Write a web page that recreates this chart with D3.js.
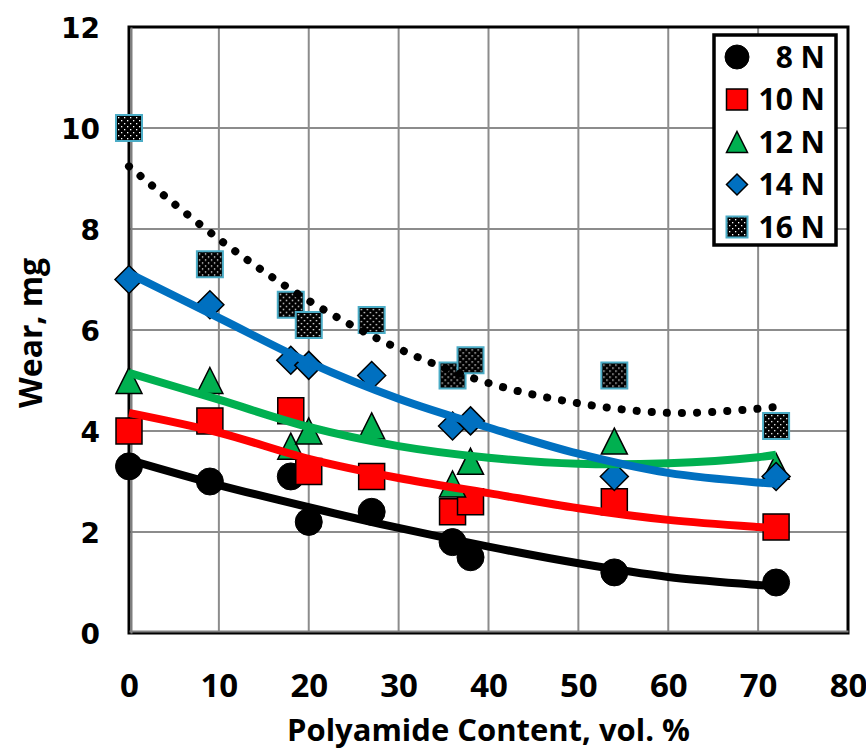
<!DOCTYPE html>
<html>
<head>
<meta charset="utf-8">
<script src="https://cdn.jsdelivr.net/npm/d3@7"></script>
<style>
  body { margin: 0; background: #fff; }
  svg { display: block; }
</style>
</head>
<body>
<svg></svg>
<script>
// polyamide content (vol. %) of the measured samples
let content = [0, 9, 18, 20, 27, 36, 38, 54, 72]

// wear (mg) for each load
let wear8 = [3.3, 3.0, 3.1, 2.2, 2.4, 1.8, 1.5, 1.2, 1.0]
let wear10 = [4.0, 4.2, 4.4, 3.2, 3.1, 2.4, 2.6, 2.6, 2.1]
let wear12 = [5.0, 5.0, 3.7, 4.0, 4.1, 2.95, 3.4, 3.8, 3.3]
let wear14 = [7.0, 6.5, 5.4, 5.3, 5.1, 4.1, 4.2, 3.1, 3.1]
let wear16 = [10.0, 7.3, 6.5, 6.1, 6.2, 5.1, 5.4, 5.1, 4.1]

// trend lines
let trendX = [0, 10, 20, 30, 40, 50, 60, 70, 72]
let trend8 = [3.43, 2.93, 2.49, 2.08, 1.71, 1.38, 1.11, 0.95, 0.92]
let trend10 = [4.36, 3.97, 3.45, 3.07, 2.77, 2.47, 2.24, 2.10, 2.08]
let trend12 = [5.15, 4.62, 4.08, 3.70, 3.47, 3.35, 3.36, 3.48, 3.53]
let trend14 = [7.12, 6.24, 5.36, 4.64, 4.07, 3.55, 3.17, 2.98, 2.96]
let trend16 = [9.24, 7.80, 6.58, 5.63, 4.95, 4.55, 4.36, 4.44, 4.48]

let loads = ['8 N', '10 N', '12 N', '14 N', '16 N']
let xTicks = [0, 10, 20, 30, 40, 50, 60, 70, 80]
let yTicks = [0, 2, 4, 6, 8, 10, 12]

let width = 866
let height = 751
let plotLeft = 129
let plotRight = 848
let plotTop = 27
let plotBottom = 633

let svg = d3.select('svg')
    .attr('width', width)
    .attr('height', height)

let xScale = d3.scaleLinear().domain([0, 80]).range([plotLeft, plotRight])
let yScale = d3.scaleLinear().domain([0, 12]).range([plotBottom, plotTop])

// dotted fill for the 16 N squares
let pat = svg.append('defs').append('pattern')
    .attr('id', 'dots')
    .attr('patternUnits', 'userSpaceOnUse')
    .attr('width', 6)
    .attr('height', 6)
pat.append('rect').attr('width', 6).attr('height', 6).attr('fill', '#000')
pat.append('rect').attr('x', 1).attr('y', 1).attr('width', 1.3).attr('height', 1.3).attr('fill', '#fff')
pat.append('rect').attr('x', 4).attr('y', 4).attr('width', 1.3).attr('height', 1.3).attr('fill', '#fff')

// marker shapes, s = full size
let shapes = {
    circle: (s) => d3.symbol(d3.symbolCircle, Math.PI * s * s / 4)(),
    square: (s) => 'M' + (-s / 2) + ',' + (-s / 2) + 'h' + s + 'v' + s + 'h' + (-s) + 'Z',
    triangle: (s) => 'M0,' + (-s / 2) + 'L' + (s / 2) + ',' + (s / 2) + 'L' + (-s / 2) + ',' + (s / 2) + 'Z',
    diamond: (s) => 'M0,' + (-s / 2) + 'L' + (s / 2) + ',0L0,' + (s / 2) + 'L' + (-s / 2) + ',0Z'
}

let series = [
    { name: loads[0], values: wear8, trend: trend8, shape: 'circle', size: 27, fill: '#000', stroke: '#000', sw: 1, line: '#000' },
    { name: loads[1], values: wear10, trend: trend10, shape: 'square', size: 26, fill: '#ff0000', stroke: '#000', sw: 1.5, line: '#ff0000' },
    { name: loads[2], values: wear12, trend: trend12, shape: 'triangle', size: 26, fill: '#00b050', stroke: '#000', sw: 1.5, line: '#00b050' },
    { name: loads[3], values: wear14, trend: trend14, shape: 'diamond', size: 28, fill: '#0070c0', stroke: '#000', sw: 1.5, line: '#0070c0' },
    { name: loads[4], values: wear16, trend: trend16, shape: 'square', size: 26, fill: 'url(#dots)', stroke: '#4bacc6', sw: 2, line: '#000', dotted: true }
]

// grid
svg.append('g')
    .selectAll('line')
    .data(xTicks.slice(1, -1))
    .enter()
    .append('line')
    .attr('x1', (d) => xScale(d))
    .attr('x2', (d) => xScale(d))
    .attr('y1', plotTop)
    .attr('y2', plotBottom)
    .attr('stroke', '#8c8c8c')
    .attr('stroke-width', 2)

svg.append('g')
    .selectAll('line')
    .data(yTicks.slice(1, -1))
    .enter()
    .append('line')
    .attr('x1', plotLeft)
    .attr('x2', plotRight)
    .attr('y1', (d) => yScale(d))
    .attr('y2', (d) => yScale(d))
    .attr('stroke', '#8c8c8c')
    .attr('stroke-width', 2)

// plot frame
svg.append('rect')
    .attr('x', plotLeft)
    .attr('y', plotTop)
    .attr('width', plotRight - plotLeft)
    .attr('height', plotBottom - plotTop)
    .attr('fill', 'none')
    .attr('stroke', '#000')
    .attr('stroke-width', 3)

// axes (labels only)
let xAxis = d3.axisBottom(xScale).tickValues(xTicks).tickSize(0).tickPadding(0)
let yAxis = d3.axisLeft(yScale).tickValues(yTicks).tickSize(0).tickPadding(0)

let gx = svg.append('g')
    .attr('transform', 'translate(0,' + plotBottom + ')')
    .call(xAxis)
gx.select('.domain').attr('stroke', '#7f7f7f').attr('stroke-width', 2).attr('transform', 'translate(0,-2)')
gx.selectAll('text')
    .attr('y', 64)
    .attr('dy', null)
    .style('font-family', '"Open Sans", sans-serif')
    .style('font-weight', 700)
    .style('font-size', '33px')
    .attr('fill', '#000')

let gy = svg.append('g')
    .attr('transform', 'translate(' + plotLeft + ',0)')
    .call(yAxis)
gy.select('.domain').attr('stroke', '#7f7f7f').attr('stroke-width', 2).attr('transform', 'translate(2,0)')
gy.selectAll('text')
    .attr('x', -29)
    .attr('dy', '0.36em')
    .style('font-family', '"DejaVu Sans", sans-serif')
    .style('font-weight', 700)
    .style('font-size', '28px')
    .attr('fill', '#000')

// axis titles
svg.append('text')
    .attr('x', (plotLeft + plotRight) / 2)
    .attr('y', 741)
    .attr('text-anchor', 'middle')
    .attr('textLength', 403)
    .attr('lengthAdjust', 'spacingAndGlyphs')
    .style('font-family', '"Open Sans", sans-serif')
    .style('font-weight', 700)
    .style('font-size', '31px')
    .text('Polyamide Content, vol. %')

svg.append('text')
    .attr('transform', 'translate(42,333) rotate(-90)')
    .attr('text-anchor', 'middle')
    .attr('textLength', 150)
    .attr('lengthAdjust', 'spacingAndGlyphs')
    .style('font-family', '"Open Sans", sans-serif')
    .style('font-weight', 700)
    .style('font-size', '32px')
    .text('Wear, mg')

// markers
series.forEach((s) => {
    svg.append('g')
        .selectAll('path')
        .data(content.map((c, i) => [c, s.values[i]]))
        .enter()
        .append('path')
        .attr('d', shapes[s.shape](s.size))
        .attr('transform', (d) => 'translate(' + xScale(d[0]) + ',' + yScale(d[1]) + ')')
        .attr('fill', s.fill)
        .attr('stroke', s.stroke)
        .attr('stroke-width', s.sw)
})

// trend lines on top
let line = d3.line()
    .x((d) => xScale(d[0]))
    .y((d) => yScale(d[1]))
    .curve(d3.curveCatmullRom.alpha(0.5))

series.forEach((s) => {
    svg.append('path')
        .datum(trendX.map((x, i) => [x, s.trend[i]]))
        .attr('d', line)
        .attr('fill', 'none')
        .attr('stroke', s.line)
        .attr('stroke-width', 8)
        .attr('stroke-linecap', s.dotted ? 'round' : 'butt')
        .attr('stroke-dasharray', s.dotted ? '0.1 15' : null)
})

// legend
let legend = svg.append('g')
legend.append('rect')
    .attr('x', 714)
    .attr('y', 35)
    .attr('width', 122)
    .attr('height', 210)
    .attr('fill', '#fff')
    .attr('stroke', '#000')
    .attr('stroke-width', 3.5)

let rowScale = d3.scalePoint().domain(loads).range([57, 227])

let rows = legend.selectAll('.row')
    .data(series)
    .enter()
    .append('g')
    .attr('class', 'row')
    .attr('transform', (s) => 'translate(0,' + rowScale(s.name) + ')')

rows.append('path')
    .attr('d', (s) => shapes[s.shape](s.shape === 'circle' ? 24 : 21))
    .attr('transform', 'translate(737,0)')
    .attr('fill', (s) => s.fill)
    .attr('stroke', (s) => s.stroke)
    .attr('stroke-width', (s) => s.sw)

rows.append('text')
    .attr('x', 825)
    .attr('dy', '0.36em')
    .attr('text-anchor', 'end')
    .style('font-family', '"Open Sans", sans-serif')
    .style('font-weight', 700)
    .style('font-size', '30px')
    .text((s) => s.name)
</script>
</body>
</html>
